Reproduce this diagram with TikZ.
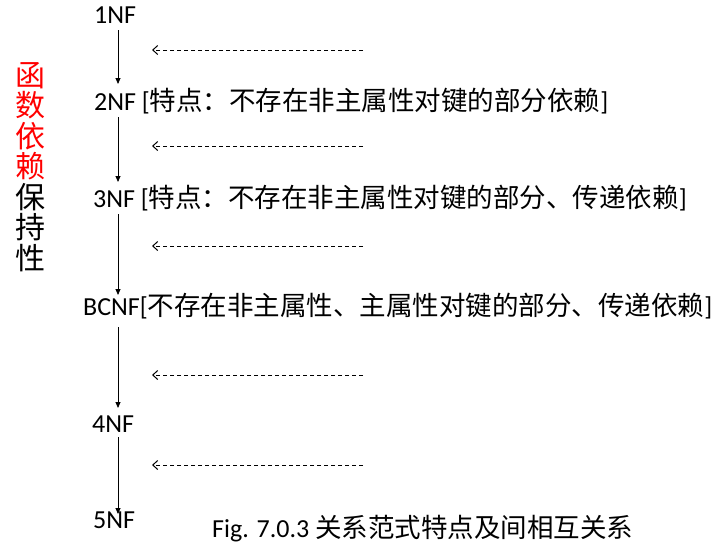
\documentclass[tikz,border=0pt]{standalone}
\usepackage{fontspec}
\setmainfont{Carlito}
\newfontfamily\cjkbase{Noto Sans CJK SC}
\newcommand{\cjk}{\cjkbase\fontsize{26.5}{30}\selectfont}
\usetikzlibrary{arrows.meta,calc}
\begin{document}
\begin{tikzpicture}[x=1pt,y=-1pt,
  lab/.style={anchor=base west, inner sep=0pt, font=\fontsize{26}{30}\selectfont},
  flow/.style={-{Triangle[length=6pt,width=5pt]}, line width=0.8pt},
  back/.style={-{Straight Barb[length=5pt,width=9pt,line width=1pt]}, dash pattern=on 4pt off 3pt, line width=0.75pt}]
\useasboundingbox (0,0) rectangle (728,549);
\coordinate (ax) at (118,0);
\node[lab] (n1) at (94,23) {1NF};
\node[lab] (n2) at (94,110) {2NF [{\cjk 特点：不存在非主属性对键的部分依赖}]};
\node[lab] (n3) at (93,207) {3NF [{\cjk 特点：不存在非主属性对键的部分、传递依赖}]};
\node[lab] (n4) at (83,315) {BCNF[{\cjk 不存在非主属性、主属性对键的部分、传递依赖}]};
\node[lab] (n5) at (92,432) {4NF};
\node[lab] (n6) at (93,528) {5NF};
\node[lab] (cap) at (212,537) {Fig. 7.0.3 {\cjk 关系范式特点及间相互关系}};
\node[inner sep=0pt, align=center, font=\cjkbase\fontsize{30}{30.5}\selectfont] (vt) at (30,167)
  {\textcolor{red}{函}\\\textcolor{red}{数}\\\textcolor{red}{依}\\\textcolor{red}{赖}\\保\\持\\性};
\draw[flow] ($(n1.base -| ax)+(0,7)$) -- ($(n2.base -| ax)+(0,-26)$);
\draw[flow] ($(n2.base -| ax)+(0,7)$) -- ($(n3.base -| ax)+(0,-25)$);
\draw[flow] ($(n3.base -| ax)+(0,7)$) -- ($(n4.base -| ax)+(0,-20)$);
\draw[flow] ($(n4.base -| ax)+(0,12)$) -- ($(n5.base -| ax)+(0,-24)$);
\draw[flow] ($(n5.base -| ax)+(0,5)$) -- ($(n6.base -| ax)+(0,-14)$);
\coordinate (d1s) at (363,50);  \coordinate (d1e) at (152,50);
\coordinate (d2s) at (363,146); \coordinate (d2e) at (152,146);
\coordinate (d3s) at (363,246); \coordinate (d3e) at (152,246);
\coordinate (d4s) at (363,375); \coordinate (d4e) at (152,375);
\coordinate (d5s) at (363,465); \coordinate (d5e) at (152,465);
\draw[back] (d1s) -- (d1e);
\draw[back] (d2s) -- (d2e);
\draw[back] (d3s) -- (d3e);
\draw[back] (d4s) -- (d4e);
\draw[back] (d5s) -- (d5e);
\end{tikzpicture}
\end{document}
